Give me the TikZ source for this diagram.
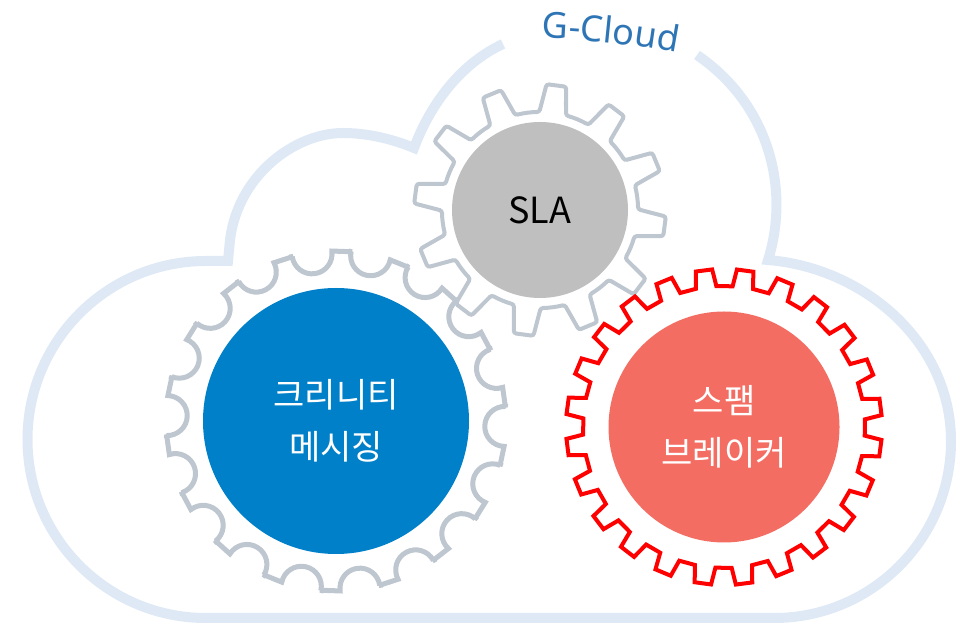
\documentclass[tikz,border=0pt]{standalone}
\usepackage{xcolor}
\usepackage{fontspec}
\setmainfont{Noto Sans CJK KR}
\newfontfamily\gcloudfont{Noto Sans}
\usetikzlibrary{decorations.text}
\definecolor{cloudblue}{HTML}{DEE9F5}
\definecolor{cloudtext}{HTML}{2E75B6}
\definecolor{gearblue}{HTML}{0080C8}
\definecolor{gearcoral}{HTML}{F46D63}
\definecolor{gearslate}{HTML}{BEC6D0}

\begin{document}
\begin{tikzpicture}[x=1pt,y=1pt,
    cloudline/.style={draw=cloudblue, line width=10pt, miter limit=10},
    gearline/.style={draw=gearslate, line width=5pt},
    disc/.style={circle, inner sep=0pt, align=center, text=white,
        font=\fontsize{34}{52}\selectfont},
    ]
    \useasboundingbox (0,0) rectangle (968,623);
    \draw[cloudline] (503,579) .. controls (460,559) and (430,518) .. (414,475)
        .. controls (390,485) and (365,490) .. (343,490)
        .. controls (295,490) and (238,448) .. (230,383)
        -- (228,362) -- (206,362)
        arc[start angle=90, end angle=270, radius=178.5]
        -- (774,5)
        arc[start angle=-90, end angle=0, radius=177]
        .. controls (951,280) and (865,355) .. (768,363)
        .. controls (790,433) and (770,518) .. (697,568);
    \path[decorate, decoration={text along path, text align=center,
        text={|\gcloudfont\fontsize{36}{36}\selectfont\color{cloudtext}|G-Cloud}}]
        (541,585) .. controls (586,583) and (632,579) .. (678,570);

    \node[disc, fill=gearblue, minimum size=266pt] (message) at (336,202) {크리니티\\메시징};
    \node[disc, fill=gray!50!white, minimum size=176pt, text=black,
        font=\fontsize{36}{40}\selectfont] (sla) at (540,413) {SLA};
    \node[disc, fill=gearcoral, minimum size=231pt] (spam) at (724,196) {스팸\\브레이커};

    \begin{scope}[shift={(message)}]
        \draw[gearline] (88-3.4:170)
        \foreach \k [evaluate=\k as \a using 88+20*\k] in {0,...,17} {
            -- ({\a+3.4}:170)
            arc[start angle=\a-80, end angle=\a-260, radius=20]
            -- ({\a+20-3.4}:170)
        } -- cycle;
    \end{scope}
    \begin{scope}[shift={(sla)}]
        \draw[gearline, line width=4pt, rounded corners=2.5pt] (82.5-7.9:98)
        \foreach \k [evaluate=\k as \a using 82.5+30*\k] in {0,...,11} {
            -- ({\a-4.5}:126) -- ({\a+4.5}:126) -- ({\a+7.9}:98)
            arc[start angle=\a+7.9, end angle=\a+22.1, radius=98]
        } -- cycle;
    \end{scope}
    \begin{scope}[shift={(spam)}]
        \draw[red, line width=4pt] (82.3-4.2:141)
        \foreach \k [evaluate=\k as \a using 82.3+15*\k] in {0,...,23} {
            -- ({\a-3}:158) -- ({\a+3}:158) -- ({\a+4.2}:141)
            -- ({\a+15-4.2}:141)
        } -- cycle;
    \end{scope}
\end{tikzpicture}
\end{document}
